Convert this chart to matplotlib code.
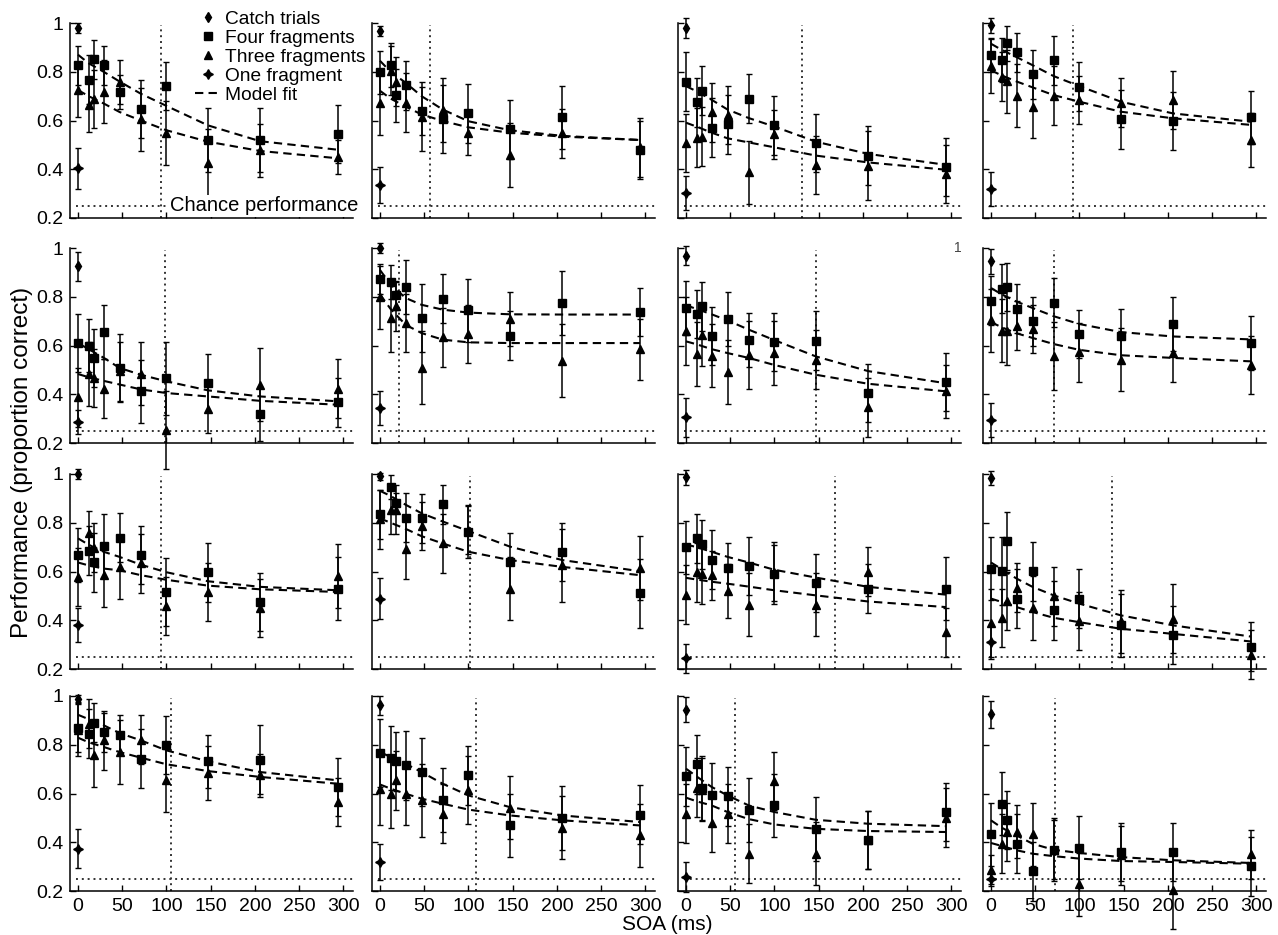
import matplotlib
matplotlib.use("Agg")
import matplotlib.pyplot as plt
from matplotlib.lines import Line2D

plt.rcParams['font.family'] = ['Liberation Sans', 'DejaVu Sans']

# SOA values (ms) for the four / three fragment conditions
soa = [0, 12, 18, 29, 47, 71, 100, 147, 206, 294]
fit_x = [0, 12, 29, 47, 71, 100, 147, 206, 294]

# one row per subject (16 panels, row-major)
four_mean = [
    [0.827, 0.768, 0.851, 0.827, 0.718, 0.648, 0.742, 0.52, 0.52, 0.545],
    [0.797, 0.827, 0.703, 0.745, 0.639, 0.606, 0.629, 0.564, 0.613, 0.479],
    [0.759, 0.674, 0.723, 0.571, 0.584, 0.69, 0.58, 0.507, 0.456, 0.409],
    [0.868, 0.85, 0.916, 0.879, 0.79, 0.847, 0.738, 0.605, 0.598, 0.613],
    [0.61, 0.6, 0.549, 0.655, 0.508, 0.412, 0.466, 0.446, 0.319, 0.367],
    [0.873, 0.86, 0.806, 0.839, 0.713, 0.792, 0.744, 0.64, 0.774, 0.737],
    [0.754, 0.729, 0.761, 0.64, 0.709, 0.622, 0.614, 0.62, 0.405, 0.45],
    [0.784, 0.833, 0.84, 0.751, 0.699, 0.776, 0.647, 0.64, 0.688, 0.61],
    [0.667, 0.685, 0.637, 0.704, 0.739, 0.667, 0.516, 0.596, 0.475, 0.53],
    [0.835, 0.946, 0.883, 0.821, 0.818, 0.876, 0.764, 0.637, 0.681, 0.51],
    [0.699, 0.736, 0.711, 0.649, 0.616, 0.623, 0.588, 0.553, 0.53, 0.53],
    [0.612, 0.601, 0.725, 0.489, 0.601, 0.441, 0.489, 0.379, 0.34, 0.292],
    [0.869, 0.845, 0.891, 0.852, 0.841, 0.743, 0.8, 0.732, 0.739, 0.627],
    [0.766, 0.746, 0.732, 0.715, 0.688, 0.574, 0.674, 0.469, 0.499, 0.513],
    [0.67, 0.72, 0.623, 0.595, 0.588, 0.533, 0.551, 0.455, 0.41, 0.524],
    [0.432, 0.558, 0.492, 0.394, 0.281, 0.37, 0.378, 0.361, 0.36, 0.301],
]
four_err = [
    [0.08, 0.1, 0.08, 0.08, 0.07, 0.12, 0.1, 0.13, 0.13, 0.12],
    [0.09, 0.09, 0.11, 0.1, 0.1, 0.14, 0.12, 0.12, 0.13, 0.12],
    [0.12, 0.1, 0.1, 0.12, 0.12, 0.1, 0.12, 0.12, 0.12, 0.12],
    [0.07, 0.09, 0.07, 0.08, 0.1, 0.1, 0.1, 0.12, 0.12, 0.11],
    [0.12, 0.11, 0.12, 0.11, 0.14, 0.13, 0.15, 0.12, 0.11, 0.1],
    [0.06, 0.07, 0.06, 0.11, 0.14, 0.1, 0.13, 0.1, 0.13, 0.1],
    [0.11, 0.1, 0.1, 0.12, 0.11, 0.11, 0.12, 0.12, 0.12, 0.12],
    [0.1, 0.1, 0.1, 0.1, 0.1, 0.1, 0.1, 0.11, 0.11, 0.11],
    [0.11, 0.1, 0.12, 0.13, 0.1, 0.12, 0.14, 0.12, 0.12, 0.13],
    [0.1, 0.05, 0.04, 0.1, 0.1, 0.08, 0.11, 0.12, 0.12, 0.14],
    [0.11, 0.1, 0.1, 0.12, 0.1, 0.12, 0.12, 0.12, 0.1, 0.13],
    [0.13, 0.14, 0.12, 0.12, 0.12, 0.12, 0.12, 0.13, 0.12, 0.1],
    [0.1, 0.1, 0.08, 0.08, 0.08, 0.12, 0.12, 0.11, 0.14, 0.12],
    [0.14, 0.13, 0.12, 0.14, 0.14, 0.13, 0.12, 0.13, 0.13, 0.12],
    [0.12, 0.12, 0.13, 0.13, 0.12, 0.13, 0.13, 0.13, 0.12, 0.12],
    [0.13, 0.13, 0.12, 0.12, 0.12, 0.13, 0.13, 0.12, 0.12, 0.12],
]
three_mean = [
    [0.725, 0.663, 0.688, 0.718, 0.759, 0.605, 0.548, 0.425, 0.477, 0.45],
    [0.67, 0.804, 0.759, 0.673, 0.616, 0.643, 0.55, 0.459, 0.548, 0.49],
    [0.507, 0.53, 0.534, 0.633, 0.622, 0.387, 0.543, 0.418, 0.415, 0.38],
    [0.824, 0.78, 0.761, 0.702, 0.657, 0.702, 0.684, 0.673, 0.684, 0.52],
    [0.387, 0.483, 0.466, 0.423, 0.494, 0.484, 0.254, 0.34, 0.44, 0.423],
    [0.798, 0.713, 0.761, 0.692, 0.508, 0.633, 0.647, 0.71, 0.538, 0.585],
    [0.658, 0.565, 0.644, 0.558, 0.491, 0.562, 0.569, 0.542, 0.346, 0.412],
    [0.703, 0.661, 0.661, 0.681, 0.668, 0.558, 0.572, 0.542, 0.569, 0.521],
    [0.578, 0.76, 0.698, 0.585, 0.619, 0.633, 0.458, 0.516, 0.45, 0.582],
    [0.814, 0.853, 0.853, 0.691, 0.787, 0.715, 0.77, 0.53, 0.626, 0.615],
    [0.505, 0.596, 0.588, 0.585, 0.519, 0.464, 0.599, 0.464, 0.599, 0.351],
    [0.388, 0.409, 0.478, 0.533, 0.45, 0.498, 0.397, 0.396, 0.407, 0.258],
    [0.862, 0.886, 0.756, 0.818, 0.77, 0.821, 0.654, 0.684, 0.674, 0.565],
    [0.62, 0.599, 0.654, 0.599, 0.572, 0.517, 0.613, 0.542, 0.46, 0.428],
    [0.517, 0.624, 0.616, 0.479, 0.517, 0.353, 0.651, 0.353, 0.41, 0.501],
    [0.287, 0.394, 0.442, 0.444, 0.432, 0.37, 0.227, 0.346, 0.205, 0.35],
]
three_err = [
    [0.11, 0.11, 0.12, 0.13, 0.09, 0.13, 0.13, 0.14, 0.11, 0.07],
    [0.13, 0.1, 0.1, 0.12, 0.14, 0.13, 0.09, 0.13, 0.1, 0.12],
    [0.12, 0.12, 0.12, 0.12, 0.12, 0.13, 0.1, 0.12, 0.14, 0.12],
    [0.11, 0.1, 0.13, 0.13, 0.13, 0.12, 0.1, 0.1, 0.12, 0.11],
    [0.12, 0.13, 0.12, 0.12, 0.12, 0.13, 0.16, 0.1, 0.15, 0.12],
    [0.13, 0.14, 0.1, 0.12, 0.15, 0.12, 0.12, 0.11, 0.15, 0.125],
    [0.14, 0.13, 0.13, 0.13, 0.13, 0.14, 0.13, 0.12, 0.12, 0.11],
    [0.13, 0.13, 0.14, 0.1, 0.1, 0.14, 0.12, 0.13, 0.12, 0.12],
    [0.12, 0.09, 0.1, 0.13, 0.13, 0.12, 0.12, 0.12, 0.12, 0.13],
    [0.12, 0.1, 0.1, 0.12, 0.1, 0.12, 0.1, 0.13, 0.15, 0.13],
    [0.12, 0.12, 0.12, 0.1, 0.11, 0.13, 0.12, 0.13, 0.1, 0.1],
    [0.14, 0.12, 0.12, 0.1, 0.13, 0.12, 0.12, 0.13, 0.14, 0.1],
    [0.11, 0.1, 0.13, 0.12, 0.13, 0.1, 0.13, 0.11, 0.09, 0.1],
    [0.15, 0.14, 0.12, 0.13, 0.15, 0.12, 0.14, 0.13, 0.13, 0.13],
    [0.12, 0.12, 0.13, 0.12, 0.12, 0.12, 0.12, 0.13, 0.12, 0.12],
    [0.06, 0.12, 0.12, 0.11, 0.13, 0.12, 0.13, 0.12, 0.16, 0.1],
]
fit_four = [
    [0.87, 0.835, 0.80, 0.76, 0.71, 0.66, 0.58, 0.515, 0.48],
    [0.845, 0.80, 0.755, 0.70, 0.645, 0.597, 0.56, 0.537, 0.52],
    [0.741, 0.72, 0.685, 0.645, 0.61, 0.575, 0.513, 0.463, 0.418],
    [0.915, 0.89, 0.86, 0.827, 0.782, 0.741, 0.677, 0.629, 0.595],
    [0.61, 0.585, 0.55, 0.508, 0.48, 0.453, 0.416, 0.391, 0.371],
    [0.91, 0.85, 0.795, 0.767, 0.747, 0.735, 0.728, 0.727, 0.727],
    [0.765, 0.75, 0.728, 0.703, 0.665, 0.622, 0.555, 0.495, 0.445],
    [0.836, 0.81, 0.78, 0.754, 0.72, 0.688, 0.655, 0.637, 0.625],
    [0.736, 0.71, 0.681, 0.66, 0.628, 0.597, 0.56, 0.537, 0.523],
    [0.931, 0.91, 0.874, 0.839, 0.805, 0.766, 0.702, 0.647, 0.601],
    [0.711, 0.70, 0.681, 0.66, 0.637, 0.607, 0.575, 0.537, 0.505],
    [0.637, 0.61, 0.571, 0.537, 0.502, 0.468, 0.42, 0.379, 0.333],
    [0.923, 0.905, 0.88, 0.848, 0.818, 0.777, 0.732, 0.688, 0.654],
    [0.77, 0.75, 0.722, 0.688, 0.64, 0.592, 0.544, 0.51, 0.483],
    [0.702, 0.67, 0.627, 0.592, 0.551, 0.524, 0.492, 0.476, 0.466],
    [0.49, 0.46, 0.428, 0.394, 0.369, 0.356, 0.339, 0.326, 0.315],
]
fit_three = [
    [0.725, 0.70, 0.67, 0.635, 0.60, 0.56, 0.513, 0.475, 0.445],
    [0.722, 0.69, 0.657, 0.625, 0.598, 0.572, 0.55, 0.534, 0.52],
    [0.591, 0.575, 0.55, 0.527, 0.51, 0.49, 0.456, 0.428, 0.398],
    [0.806, 0.785, 0.76, 0.736, 0.704, 0.677, 0.636, 0.609, 0.582],
    [0.483, 0.47, 0.455, 0.44, 0.42, 0.405, 0.391, 0.373, 0.357],
    [0.81, 0.75, 0.685, 0.651, 0.624, 0.613, 0.61, 0.61, 0.61],
    [0.617, 0.605, 0.585, 0.569, 0.549, 0.52, 0.48, 0.443, 0.412],
    [0.696, 0.675, 0.65, 0.631, 0.606, 0.582, 0.56, 0.549, 0.535],
    [0.637, 0.625, 0.612, 0.605, 0.585, 0.566, 0.542, 0.527, 0.516],
    [0.818, 0.80, 0.775, 0.745, 0.715, 0.681, 0.647, 0.619, 0.585],
    [0.574, 0.567, 0.558, 0.55, 0.538, 0.523, 0.502, 0.477, 0.454],
    [0.489, 0.475, 0.454, 0.434, 0.41, 0.392, 0.365, 0.344, 0.313],
    [0.829, 0.81, 0.791, 0.77, 0.747, 0.72, 0.692, 0.668, 0.64],
    [0.637, 0.62, 0.599, 0.579, 0.558, 0.534, 0.51, 0.49, 0.469],
    [0.583, 0.568, 0.551, 0.524, 0.495, 0.473, 0.455, 0.446, 0.442],
    [0.397, 0.385, 0.367, 0.353, 0.343, 0.333, 0.323, 0.319, 0.312],
]
catch_mean = [0.98, 0.966, 0.98, 0.99, 0.925, 1.0, 0.969, 0.945,
              1.0, 0.99, 0.986, 0.984, 0.989, 0.962, 0.944, 0.925]
catch_err = [0.02, 0.02, 0.04, 0.03, 0.06, 0.02, 0.04, 0.05,
             0.02, 0.015, 0.03, 0.03, 0.015, 0.04, 0.05, 0.055]
one_mean = [0.404, 0.336, 0.302, 0.319, 0.285, 0.343, 0.305, 0.295,
            0.379, 0.489, 0.244, 0.31, 0.373, 0.319, 0.257, 0.25]
one_err = [0.083, 0.075, 0.07, 0.07, 0.05, 0.07, 0.08, 0.07,
           0.07, 0.085, 0.06, 0.07, 0.08, 0.075, 0.06, 0.03]
# SOA at the vertical dotted line of each panel
soa_mark = [93.5, 56.6, 131.6, 93.2, 98.6, 21.9, 147.3, 71.4,
            93.8, 101.9, 169.0, 136.4, 105.7, 109.0, 55.5, 72.7]
chance = 0.25

W, H = 1278, 935
col_left = [70, 372, 678, 983]
row_top = [23, 248, 474, 696]
pw, ph = 283, 195

star4 = (4, 1, 0)
fig = plt.figure(figsize=(W / 100, H / 100), dpi=100)

for i in range(16):
    r, c = divmod(i, 4)
    ax = fig.add_axes([col_left[c] / W, 1 - (row_top[r] + ph) / H, pw / W, ph / H])

    ax.plot(fit_x, fit_four[i], color='k', ls=(0, (4, 2.5)), lw=1.5, zorder=2)
    ax.plot(fit_x, fit_three[i], color='k', ls=(0, (4, 2.5)), lw=1.5, zorder=2)
    ax.axhline(chance, xmin=0.02, color='#333333', ls=(0, (1, 2)), lw=1.4, zorder=1)
    ax.axvline(soa_mark[i], ymax=0.99, color='#333333', ls=(0, (1, 2)), lw=1.4, zorder=1)

    eb = dict(color='k', ecolor='k', elinewidth=1.1, capsize=2.5, capthick=1.0,
              clip_on=False, zorder=3)
    ax.errorbar(soa, three_mean[i], yerr=three_err[i], fmt='^', ms=6, **eb)
    ax.errorbar(soa, four_mean[i], yerr=four_err[i], fmt='s', ms=6, **eb)
    ax.errorbar([0], [catch_mean[i]], yerr=[catch_err[i]], fmt='d', ms=5.5, **eb)
    ax.errorbar([0], [one_mean[i]], yerr=[one_err[i]], fmt='none', **eb)
    ax.plot([0], [one_mean[i]], marker=star4, ms=7, color='k', ls='none',
            clip_on=False, zorder=4)

    ax.set_xlim(-9, 311)
    ax.set_ylim(0.2, 1.0)
    ax.set_xticks(range(0, 301, 50))
    ax.set_yticks([0.2, 0.4, 0.6, 0.8, 1.0])
    ax.spines['top'].set_visible(False)
    ax.spines['right'].set_visible(False)
    for s in ['left', 'bottom']:
        ax.spines[s].set_linewidth(1.1)
    ax.tick_params(direction='in', length=4, width=1, labelsize=14, pad=5)
    if c == 0:
        ax.set_yticklabels(['0.2', '0.4', '0.6', '0.8', '1'])
    else:
        ax.set_yticklabels([])
    if r == 3:
        ax.set_xticklabels([str(v) for v in range(0, 301, 50)])
    else:
        ax.set_xticklabels([])

    if i == 0:
        handles = [
            Line2D([], [], marker='d', ls='none', color='k', ms=5.5),
            Line2D([], [], marker='s', ls='none', color='k', ms=6),
            Line2D([], [], marker='^', ls='none', color='k', ms=6),
            Line2D([], [], marker=star4, ls='none', color='k', ms=7),
            Line2D([], [], ls=(0, (4, 2.5)), color='k', lw=1.5),
        ]
        labels = ['Catch trials', 'Four fragments', 'Three fragments',
                  'One fragment', 'Model fit']
        leg = ax.legend(handles, labels, loc='upper left', bbox_to_anchor=(0.44, 1.065),
                        frameon=False, fontsize=13.8, handlelength=1.4, handletextpad=0.2,
                        labelspacing=0.08, borderpad=0, borderaxespad=0, numpoints=1)
        leg.set_zorder(6)
        ax.text(104, chance, 'Chance performance', ha='left', va='center', fontsize=14.5,
                bbox=dict(fc='white', ec='none', pad=1), zorder=5, clip_on=False)
    if i == 7:
        ax.text(-0.09, 1.0, '1', transform=ax.transAxes, ha='center', va='center',
                fontsize=10, color='#444444')

fig.text(22 / W, 1 - 462 / H, 'Performance (proportion correct)', rotation=90,
         ha='center', va='center', fontsize=17.5)
fig.text(667 / W, 1 - 925 / H, 'SOA (ms)', ha='center', va='center', fontsize=15)

fig.savefig('out.png', dpi=100)
